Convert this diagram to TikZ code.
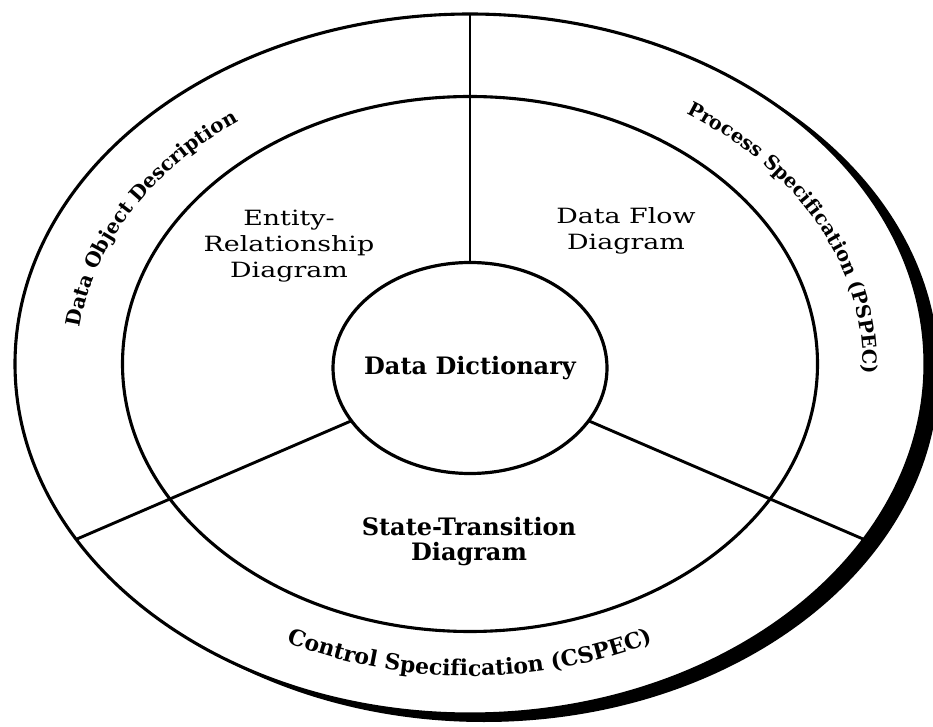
\documentclass[tikz,border=0pt]{standalone}
\usepackage{fontspec}
\setmainfont{DejaVu Serif}
\newfontfamily\widefont[FakeStretch=1.28]{DejaVu Serif}
\usetikzlibrary{shapes.geometric,decorations.text,calc}
\begin{document}
\begin{tikzpicture}[x=1pt,y=1pt,
  ring/.style={ellipse, draw, line width=3.1pt, inner sep=0pt, outer sep=0pt},
  divider/.style={line width=2.9pt},
  plain/.style={font=\widefont\fontsize{21}{26}\selectfont, align=center, inner sep=0pt},
  strong/.style={font=\fontsize{24}{25}\selectfont\bfseries, align=center, inner sep=0pt},
]
\clip (0,0) rectangle (933,726);
\fill (484,354) ellipse [x radius=455pt, y radius=350pt];
\node[ring, fill=white, minimum width=910pt, minimum height=700pt] (outer) at (470,362) {};
\node[ring, minimum width=695pt, minimum height=535pt] (inner) at (470,362) {};
\node[ring, line width=3.2pt, minimum width=274pt, minimum height=211pt] (dd) at (470,358) {};
\draw[divider] (dd.north) -- (outer.north);
\draw[divider] (dd.-156) -- (outer.-156);
\draw[divider] (dd.-24) -- (outer.-24);
\node[strong] (ddlabel) at (dd) {Data Dictionary};
\node[plain] (erd) at (289,480) {Entity-\\Relationship\\Diagram};
\node[plain] (dfd) at (626,495) {Data Flow\\Diagram};
\node[strong] (std) at (469,184) {State-Transition\\Diagram};
\path[decorate, decoration={text along path, text align=center,
  text={|\fontsize{20}{22}\selectfont\bfseries|Data Object Description}}]
  ($(470,362)+(198:393pt and 300pt)$) arc[start angle=198, end angle=106, x radius=393pt, y radius=300pt];
\path[decorate, decoration={text along path, text align=center,
  text={|\fontsize{19.5}{22}\selectfont\bfseries|Process Specification (PSPEC)}}]
  ($(470,362)+(77:393pt and 300pt)$) arc[start angle=77, end angle=-27, x radius=393pt, y radius=300pt];
\path[decorate, decoration={text along path, text align=center,
  text={|\fontsize{22}{24}\selectfont\bfseries|Control Specification (CSPEC)}}]
  ($(470,362)+(219:404pt and 312pt)$) arc[start angle=219, end angle=321, x radius=404pt, y radius=312pt];
\end{tikzpicture}
\end{document}
